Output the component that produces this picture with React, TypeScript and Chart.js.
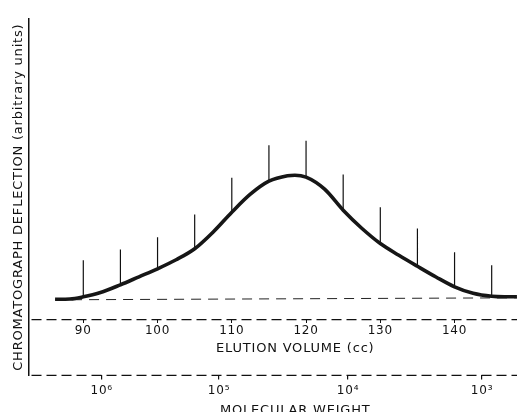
import React, { useEffect, useRef } from 'react';
import { Chart, registerables } from 'chart.js';

Chart.register(...registerables);

// ---- data ----
const elutionTicks = [90, 100, 110, 120, 130, 140];
const mwTickVolumes = [92.48, 108.28, 125.65, 143.7];
const mwTickLabels = ['10⁶', '10⁵', '10⁴', '10³'];

const curveVolumes = [86.2, 88.2, 90, 92.2, 95, 97.5, 100, 102.5, 105, 107.5, 110, 112.5, 115, 117.5, 118.5, 120, 122.5, 125, 127.5, 130, 132.5, 135, 137.5, 140, 142.5, 145, 146.7, 148.4];
const curveDeflection = [-0.05, -0.02, 0.2, 0.6, 1.4, 2.2, 3.0, 3.9, 5.0, 6.68, 8.65, 10.45, 11.75, 12.3, 12.35, 12.15, 10.95, 8.85, 7.05, 5.52, 4.35, 3.25, 2.18, 1.2, 0.55, 0.25, 0.2, 0.2];

const markerVolumes = [90, 95, 100, 105, 110, 115, 120, 125, 130, 135, 140, 145];
const markerTops = [3.85, 4.92, 6.15, 8.42, 12.1, 15.35, 15.78, 12.42, 9.15, 7.02, 4.65, 3.35];

const baselineVolumes = [86.2, 148.4];
const baselineDeflection = [-0.1, 0.1];

const X_MIN = 82.62;
const X_MAX = 154.47;
const Y_MIN = -7.65;
const Y_MAX = 27.95;
const ELUTION_AXIS_AT = -2.08;

const FONT = 'DejaVu Sans';
const INK = '#111111';

const letterSpacingPlugin = {
  id: 'letterSpacing',
  beforeUpdate(chart: any) {
    chart.ctx.letterSpacing = '0.8px';
  },
  beforeDraw(chart: any) {
    chart.ctx.letterSpacing = '0.8px';
  },
};

// dashed axis lines for the two horizontal axes (Chart.js borders are always solid)
const dashedAxesPlugin = {
  id: 'dashedAxes',
  afterDraw(chart: any) {
    const { ctx, chartArea, scales } = chart;
    const rows = [scales.y.getPixelForValue(ELUTION_AXIS_AT), scales.mw.top];
    ctx.save();
    ctx.strokeStyle = INK;
    ctx.lineWidth = 1.2;
    ctx.setLineDash([10, 5]);
    rows.forEach((py: number) => {
      ctx.beginPath();
      ctx.moveTo(chartArea.left + 3, py);
      ctx.lineTo(chartArea.right, py);
      ctx.stroke();
    });
    ctx.restore();
  },
};

export default function App() {
  const ref = useRef<HTMLCanvasElement | null>(null);

  useEffect(() => {
    if (!ref.current) return;

    const curve = curveVolumes.map((v, i) => ({ x: v, y: curveDeflection[i] }));
    const markers: { x: number; y: number | null }[] = [];
    markerVolumes.forEach((v, i) => {
      const idx = curveVolumes.indexOf(v);
      const bottom = idx >= 0 ? curveDeflection[idx] : 0;
      markers.push({ x: v, y: bottom });
      markers.push({ x: v, y: markerTops[i] });
      markers.push({ x: v, y: null });
    });
    const baseline = baselineVolumes.map((v, i) => ({ x: v, y: baselineDeflection[i] }));

    const chart = new Chart(ref.current, {
      type: 'line',
      data: {
        datasets: [
          {
            label: 'curve',
            data: curve,
            borderColor: '#161616',
            borderWidth: 3.6,
            pointRadius: 0,
            cubicInterpolationMode: 'monotone',
            order: 0,
          },
          {
            label: 'markers',
            data: markers as any,
            borderColor: INK,
            borderWidth: 1.2,
            pointRadius: 0,
            spanGaps: false,
            order: 1,
          },
          {
            label: 'baseline',
            data: baseline,
            borderColor: '#222222',
            borderWidth: 1,
            borderDash: [10, 7],
            pointRadius: 0,
            order: 2,
          },
        ],
      },
      options: {
        animation: false,
        responsive: false,
        devicePixelRatio: 1,
        layout: { padding: { top: 19, left: 8, right: 0, bottom: 0 } },
        plugins: {
          legend: { display: false },
          tooltip: { enabled: false },
        },
        scales: {
          x: {
            type: 'linear',
            position: { y: ELUTION_AXIS_AT } as any,
            min: X_MIN,
            max: X_MAX,
            afterBuildTicks: (s: any) => {
              s.ticks = elutionTicks.map((v) => ({ value: v }));
            },
            ticks: {
              autoSkip: false,
              maxRotation: 0,
              padding: 1,
              color: INK,
              font: { family: FONT, size: 12 },
            },
            grid: {
              display: true,
              drawOnChartArea: false,
              drawTicks: true,
              tickLength: 3,
              color: INK,
              lineWidth: 1,
            },
            border: { display: false },
            title: {
              display: true,
              text: 'ELUTION VOLUME (cc)',
              color: INK,
              font: { family: FONT, size: 13 },
              padding: { top: 1.5, bottom: 2 },
            },
          },
          mw: {
            type: 'linear',
            axis: 'x',
            position: 'bottom',
            min: X_MIN,
            max: X_MAX,
            afterBuildTicks: (s: any) => {
              s.ticks = mwTickVolumes.map((v) => ({ value: v }));
            },
            ticks: {
              autoSkip: false,
              maxRotation: 0,
              padding: 4.3,
              color: INK,
              font: { family: FONT, size: 12 },
              callback: (_v: any, i: number) => mwTickLabels[i],
            },
            grid: {
              display: true,
              drawOnChartArea: false,
              drawTicks: true,
              tickLength: 4,
              color: INK,
              lineWidth: 1.2,
            },
            border: { display: false },
            title: {
              display: true,
              text: 'MOLECULAR WEIGHT',
              color: INK,
              font: { family: FONT, size: 13 },
              padding: { top: 0, bottom: 4 },
            },
          },
          y: {
            type: 'linear',
            position: 'left',
            min: Y_MIN,
            max: Y_MAX,
            ticks: { display: false },
            grid: { display: false, drawTicks: false },
            border: { display: true, color: INK, width: 1.5 },
            title: {
              display: true,
              text: 'CHROMATOGRAPH DEFLECTION (arbitrary units)',
              color: INK,
              font: { family: FONT, size: 13 },
              padding: { top: 2.7, bottom: 2.2 },
            },
          },
        } as any,
      },
      plugins: [letterSpacingPlugin, dashedAxesPlugin],
    });

    return () => chart.destroy();
  }, []);

  return (
    <div style={{ position: 'fixed', left: 0, top: 0, width: 517, height: 412, overflow: 'hidden', background: '#fff' }}>
      <canvas ref={ref} width={562} height={422} style={{ display: 'block', width: 562, height: 422 }} />
    </div>
  );
}
